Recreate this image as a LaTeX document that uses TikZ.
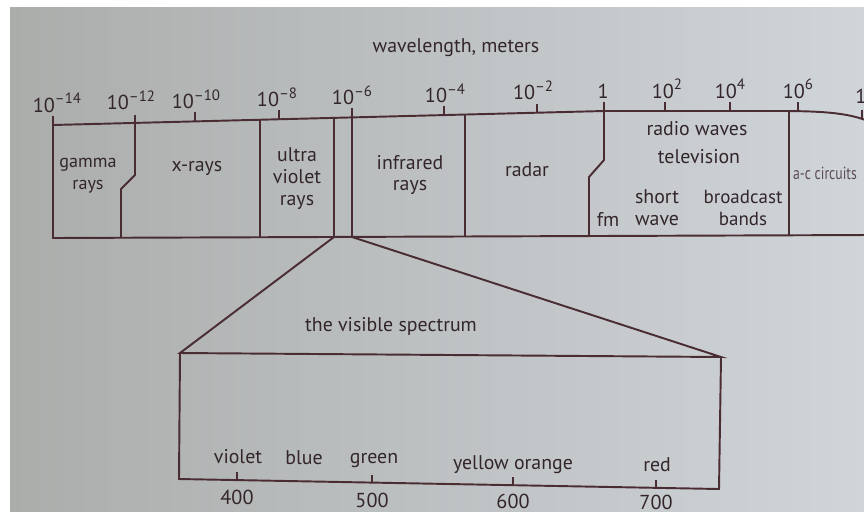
\documentclass[tikz,border=0pt]{standalone}
\usepackage{fontspec}
\setmainfont{PT Sans}
\usepackage{xcolor}
\usepackage{tikz}
\usetikzlibrary{positioning}
\definecolor{spink}{HTML}{4A2C33}
\definecolor{sptext}{HTML}{33262B}
\definecolor{spfaint}{HTML}{5E4C58}
\definecolor{sppageL}{HTML}{ABADAB}
\definecolor{sppageR}{HTML}{D0D5DA}
\newcommand{\tenpow}[1]{10\raisebox{0.8ex}{\fontsize{8.5}{9}\selectfont #1}}

\begin{document}
\begin{tikzpicture}[x=0.02cm, y=-0.02cm,
  specline/.style={draw=spink, line width=1.1pt, line join=miter},
  tickmark/.style={draw=spink, line width=1.1pt},
  bandtext/.style={text=sptext, font=\fontsize{11.3}{12.5}\selectfont,
                   align=center, inner sep=0pt},
  powtext/.style={text=sptext, font=\fontsize{11.5}{14}\selectfont,
                  anchor=base, inner sep=0pt},
  numtext/.style={text=sptext, font=\fontsize{11.5}{14}\selectfont, inner sep=0pt}
]
\useasboundingbox (0,0) rectangle (864,511);
\clip (0,0) rectangle (864,511);
% page
\shade[left color=sppageL, right color=sppageR] (10,7) rectangle (864,511);
\fill[white] (0,0) rectangle (864,7);
\fill[white] (0,0) rectangle (10,511);

\node[bandtext] (title) at (456,48) {wavelength, meters};

% the band
\draw[specline] (53,125) -- (604,111) -- (780,111)
  .. controls (830,111) and (850,114) .. (868,121);
\draw[specline] (53,116) -- (53,238) -- (868,235);
\draw[specline] (135,115) -- (135,175) -- (121,189) -- (121,238);
\draw[specline] (604,111) -- (604,160) -- (589,177) -- (589,236);
\foreach \x/\yt/\yb in {260/119.7/237.2, 334/117.9/237, 352/117.4/236.9,
                        465/114.5/236.5, 789/111/235.3} {
  \draw[specline] (\x,\yt) -- (\x,\yb);
}

% ticks and powers of ten
\foreach \x/\y in {195/121.4, 279/119.3, 352/117.4, 444/115.1, 537/112.7,
                   604/111, 665/111, 730/111, 798/111, 862/118.5} {
  \draw[tickmark] (\x,\y) -- (\x,{\y-9});
}
\foreach \x/\y/\e [count=\i] in {57/125/{–14}, 131/122.9/{–12}, 196/121.4/{–10},
                                 277/119.3/{–8}, 352/117.4/{–6}, 445/115.1/{–4},
                                 533/112.7/{–2}, 667/111/2, 730/111/4, 798/111/6} {
  \node[powtext] (pow\i) at (\x,{\y-13}) {\tenpow{\e}};
}
\node[powtext] (pow-one) at (603,98) {1};
\node[powtext, anchor=base west] (pow-end) at (855,103) {\tenpow{8}};

% band labels
\node[bandtext, font=\fontsize{10.3}{12.5}\selectfont] (gamma) at (88,176) {gamma\\rays};
\node[bandtext] (xray) at (197,168) {x-rays};
\node[bandtext] (uv) at (297,179) {ultra\\violet\\rays};
\node[bandtext] (ir) at (410,175) {infrared\\rays};
\node[bandtext] (radar) at (527,170) {radar};
\node[bandtext] (radio) at (697,129) {radio waves};
\node[bandtext] (tv) at (699,157) {television};
\node[bandtext] (sw) at (657,208) {short\\wave};
\node[bandtext, font=\fontsize{10.8}{12.5}\selectfont] (bc) at (743,208) {broadcast\\bands};
\node[bandtext] (fm) at (608,219) {fm};
\node[bandtext, text=spfaint] (ac) at (825,173)
  {\fontsize{10}{12}\selectfont\scalebox{0.78}[1]{a-c circuits}};

% the visible spectrum
\coordinate (vis-l) at (334,237);
\coordinate (vis-r) at (352,237);
\coordinate (box-nw) at (180,353);
\coordinate (box-ne) at (721,357);
\coordinate (box-se) at (719,489);
\coordinate (box-sw) at (179,479);
\draw[specline] (vis-l) -- (box-nw) -- (box-ne) -- (vis-r);
\draw[specline] (box-nw) -- (box-sw) -- (box-se) -- (box-ne);
\node[bandtext] (vis) at (391,326) {the visible spectrum};

\foreach \x/\y/\n/\ly in {237/480/400/497, 372/482.6/500/500,
                          513/485.2/600/501, 656/487.8/700/502} {
  \draw[tickmark] (\x,\y) -- (\x,{\y-8});
  \node[numtext] (nm\n) at (\x,\ly) {\n};
}
\foreach \x/\y/\c in {238/457/violet, 304/458/blue, 374/461/green,
                      513/465/yellow orange, 657/465/red} {
  \node[bandtext] (col-\x) at (\x,\y) {\c};
}
\end{tikzpicture}
\end{document}
